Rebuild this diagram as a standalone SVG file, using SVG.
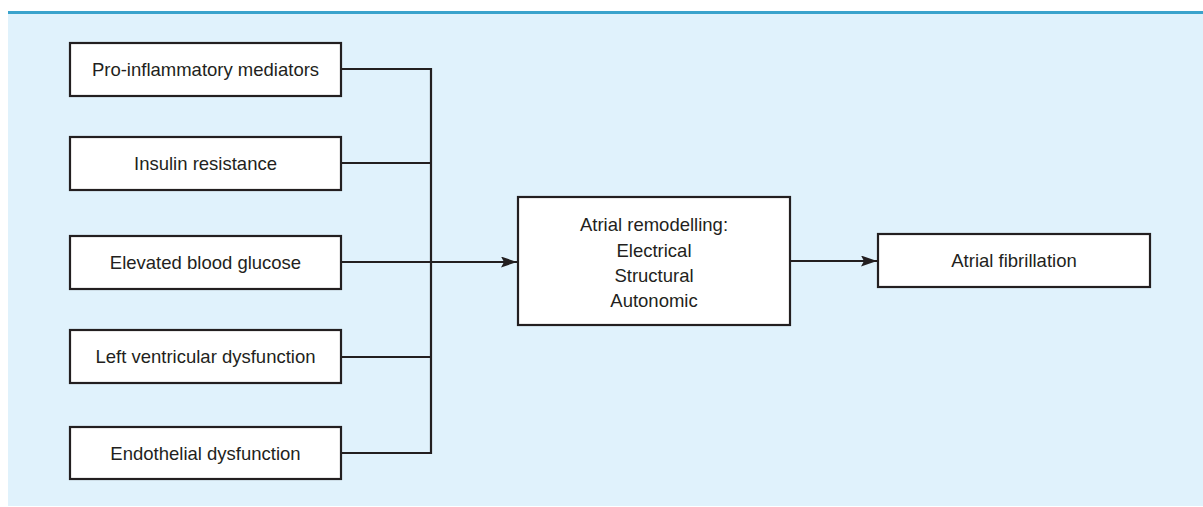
<svg xmlns="http://www.w3.org/2000/svg" width="1203" height="507" viewBox="0 0 1203 507">
  <defs>
    <style>
      .box { fill: #ffffff; stroke: #231f20; stroke-width: 2.2; }
      .lbl { font-family: "Liberation Sans", "Open Sans", sans-serif; font-size: 18.5px; fill: #231f20; text-anchor: middle; }
      .wire { fill: none; stroke: #231f20; stroke-width: 2.2; }
    </style>
    <marker id="arrow" viewBox="0 0 16 11" refX="16" refY="5.5" markerWidth="16" markerHeight="11" markerUnits="userSpaceOnUse" orient="auto">
      <path d="M0,0 L16,5.5 L0,11 L3,5.5 Z" fill="#231f20"/>
    </marker>
  </defs>

  <!-- panel background with top rule -->
  <rect x="0" y="0" width="1203" height="507" fill="#ffffff"/>
  <rect x="8" y="12" width="1195" height="494" fill="#e0f2fc"/>
  <rect x="8" y="11" width="1195" height="3" fill="#3aa3cc"/>

  <!-- connectors -->
  <g id="connectors">
    <polyline class="wire" points="341,69 431,69 431,453 341,453"/>
    <line class="wire" x1="341" y1="163" x2="431" y2="163"/>
    <line class="wire" x1="341" y1="357" x2="431" y2="357"/>
    <line class="wire" x1="341" y1="262" x2="517" y2="262" marker-end="url(#arrow)"/>
    <line class="wire" x1="790" y1="261" x2="877" y2="261" marker-end="url(#arrow)"/>
  </g>

  <g id="pro-inflammatory">
    <rect class="box" x="70" y="43" width="271" height="53"/>
    <text class="lbl" x="205.5" y="76">Pro-inflammatory mediators</text>
  </g>
  <g id="insulin-resistance">
    <rect class="box" x="70" y="137" width="271" height="53"/>
    <text class="lbl" x="205.5" y="170">Insulin resistance</text>
  </g>
  <g id="blood-glucose">
    <rect class="box" x="70" y="236" width="271" height="53"/>
    <text class="lbl" x="205.5" y="269">Elevated blood glucose</text>
  </g>
  <g id="lv-dysfunction">
    <rect class="box" x="70" y="330" width="271" height="53"/>
    <text class="lbl" x="205.5" y="363">Left ventricular dysfunction</text>
  </g>
  <g id="endothelial-dysfunction">
    <rect class="box" x="70" y="427" width="271" height="52"/>
    <text class="lbl" x="205.5" y="460">Endothelial dysfunction</text>
  </g>

  <g id="atrial-remodelling">
    <rect class="box" x="518" y="197" width="272" height="128"/>
    <text class="lbl" x="654" y="231">Atrial remodelling:</text>
    <text class="lbl" x="654" y="257">Electrical</text>
    <text class="lbl" x="654" y="282">Structural</text>
    <text class="lbl" x="654" y="307">Autonomic</text>
  </g>

  <g id="atrial-fibrillation">
    <rect class="box" x="878" y="234" width="272" height="53"/>
    <text class="lbl" x="1014" y="267">Atrial fibrillation</text>
  </g>
</svg>
